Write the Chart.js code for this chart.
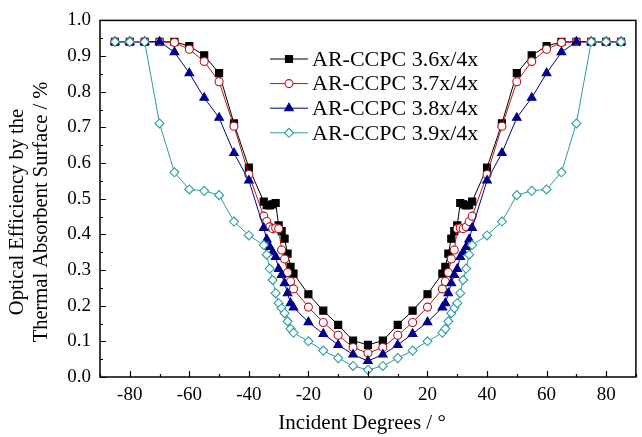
<!DOCTYPE html>
<html>
<head>
<meta charset="utf-8">
<script src="https://cdn.jsdelivr.net/npm/chart.js@4/dist/chart.umd.min.js"></script>
<style>
html,body{margin:0;padding:0;background:#fff;}
#wrap{width:642px;height:437px;position:relative;}
</style>
</head>
<body>
<div id="wrap"><canvas id="c"></canvas></div>
<script>
// ---- data ----
const angles = [-85,-80,-75,-70,-65,-60,-55,-50,-45,-40,-35,-34,-33,-32,-31,-30,-29,-28,-27,-26,-25,-20,-15,-10,-5,0,
                5,10,15,20,25,26,27,28,29,30,31,32,33,34,35,40,45,50,55,60,65,70,75,80,85];
const seriesNames = ['AR-CCPC 3.6x/4x','AR-CCPC 3.7x/4x','AR-CCPC 3.8x/4x','AR-CCPC 3.9x/4x'];
const eff36 = [0.94,0.94,0.94,0.94,0.94,0.928,0.902,0.852,0.711,0.587,0.492,0.482,0.481,0.484,0.488,0.425,0.409,0.388,0.346,0.309,0.29,0.232,0.186,0.146,0.102,0.09,
               0.102,0.146,0.186,0.232,0.29,0.309,0.346,0.388,0.409,0.425,0.488,0.484,0.481,0.482,0.492,0.587,0.711,0.852,0.902,0.928,0.94,0.94,0.94,0.94,0.94];
const eff37 = [0.94,0.94,0.94,0.94,0.938,0.919,0.885,0.828,0.703,0.568,0.451,0.436,0.421,0.416,0.418,0.416,0.356,0.331,0.293,0.268,0.247,0.196,0.153,0.117,0.083,0.067,
               0.083,0.117,0.153,0.196,0.247,0.268,0.293,0.331,0.356,0.416,0.418,0.416,0.421,0.436,0.451,0.568,0.703,0.828,0.885,0.919,0.938,0.94,0.94,0.94,0.94];
const eff38 = [0.94,0.94,0.94,0.94,0.911,0.852,0.783,0.727,0.628,0.551,0.418,0.386,0.365,0.35,0.337,0.303,0.286,0.263,0.235,0.207,0.195,0.154,0.121,0.09,0.063,0.045,
               0.063,0.09,0.121,0.154,0.195,0.207,0.235,0.263,0.286,0.303,0.337,0.35,0.365,0.386,0.418,0.551,0.628,0.727,0.783,0.852,0.911,0.94,0.94,0.94,0.94];
const eff39 = [0.94,0.94,0.94,0.711,0.574,0.526,0.522,0.51,0.436,0.397,0.37,0.343,0.304,0.272,0.235,0.207,0.193,0.179,0.156,0.135,0.124,0.1,0.074,0.053,0.031,0.02,
               0.031,0.053,0.074,0.1,0.124,0.135,0.156,0.179,0.193,0.207,0.235,0.272,0.304,0.343,0.37,0.397,0.436,0.51,0.522,0.526,0.574,0.711,0.94,0.94,0.94];
const xTickValues = [-80,-60,-40,-20,0,20,40,60,80];
const xMinorValues = [-90,-70,-50,-30,-10,10,30,50,70,90];
const yTickValues = [0,0.1,0.2,0.3,0.4,0.5,0.6,0.7,0.8,0.9,1.0];
const yMinorValues = [0.05,0.15,0.25,0.35,0.45,0.55,0.65,0.75,0.85,0.95];
const xTitle = 'Incident Degrees / °';
const yTitleLines = ['Optical Efficiency by the','Thermal Absorbent Surface / %'];

const SERIF = '"Liberation Serif","Times New Roman",serif';
const pts = arr => angles.map((a,i)=>({x:a,y:arr[i]}));

const styles = [
  {color:'#000000', style:'rect', r:5, bg:'#000000'},
  {color:'#b3161b', style:'circle', r:4, bg:'#ffffff'},
  {color:'#00008b', style:'triangle', r:5, bg:'#00008b'},
  {color:'#2a9d9d', style:'rectRot', r:4.5, bg:'#ffffff'}
];
const vals = [eff36,eff37,eff38,eff39];
const datasets = vals.map((v,i)=>({
  label: seriesNames[i],
  data: pts(v),
  borderColor: styles[i].color,
  backgroundColor: styles[i].bg,
  borderWidth: 1,
  pointStyle: styles[i].style,
  pointRadius: styles[i].r,
  pointBorderWidth: 1.1,
  pointBorderColor: styles[i].color,
  pointBackgroundColor: styles[i].bg,
  tension: 0,
  order: 4 - i
}));

const decor = {
  id:'decor',
  afterDraw(chart){
    const ctx = chart.ctx, a = chart.chartArea;
    const xs = chart.scales.x, ys = chart.scales.y;
    ctx.save();
    ctx.strokeStyle = '#000';
    ctx.lineWidth = 1.5;
    ctx.strokeRect(a.left, a.top, a.right-a.left, a.bottom-a.top);
    ctx.lineWidth = 1.2;
    ctx.beginPath();
    xTickValues.forEach(v=>{const px=Math.round(xs.getPixelForValue(v))+0.5; ctx.moveTo(px,a.bottom); ctx.lineTo(px,a.bottom-6);});
    xMinorValues.forEach(v=>{const px=Math.round(xs.getPixelForValue(v))+0.5; ctx.moveTo(px,a.bottom); ctx.lineTo(px,a.bottom-3);});
    yTickValues.forEach(v=>{const py=Math.round(ys.getPixelForValue(v))+0.5; ctx.moveTo(a.left,py); ctx.lineTo(a.left+6,py);});
    yMinorValues.forEach(v=>{const py=Math.round(ys.getPixelForValue(v))+0.5; ctx.moveTo(a.left,py); ctx.lineTo(a.left+3,py);});
    ctx.stroke();

    // axis titles
    ctx.fillStyle = '#000';
    ctx.font = '21px ' + SERIF;
    ctx.textAlign = 'center';
    ctx.textBaseline = 'middle';
    ctx.fillText(xTitle, 362, 423);
    ctx.save();
    ctx.translate(18, 212);
    ctx.rotate(-Math.PI/2);
    ctx.font = '20.5px ' + SERIF;
    ctx.fillText(yTitleLines[0], 0, 0);
    ctx.fillText(yTitleLines[1], 0, 24);
    ctx.restore();

    // legend
    const rowY0 = 59, rowDy = 24.6;
    chart.data.datasets.forEach((ds,i)=>{
      const y = rowY0 + i*rowDy;
      ctx.strokeStyle = ds.borderColor;
      ctx.lineWidth = 1;
      ctx.beginPath(); ctx.moveTo(270,y); ctx.lineTo(308,y); ctx.stroke();
      ctx.lineWidth = ds.pointBorderWidth;
      ctx.fillStyle = ds.pointBackgroundColor;
      Chart.helpers.drawPoint(ctx, {pointStyle: ds.pointStyle, radius: ds.pointRadius, rotation:0, borderWidth: ds.pointBorderWidth}, 289, y);
      ctx.fillStyle = '#000';
      ctx.font = '22px ' + SERIF;
      ctx.textAlign = 'left';
      ctx.textBaseline = 'middle';
      ctx.fillText(ds.label, 312, y+1);
    });
    ctx.restore();
  }
};

new Chart(document.getElementById('c'), {
  type:'line',
  data:{datasets},
  options:{
    responsive:true,
    maintainAspectRatio:false,
    animation:false,
    layout:{padding:{top:15,right:2,left:0,bottom:0}},
    plugins:{legend:{display:false},tooltip:{enabled:false}},
    scales:{
      x:{
        type:'linear', min:-90, max:90,
        grid:{display:false, drawTicks:false},
        border:{display:false},
        afterBuildTicks(s){ s.ticks = xTickValues.map(v=>({value:v})); },
        afterFit(s){ s.height = 60; },
        ticks:{font:{family:SERIF,size:19},color:'#000',padding:7,maxRotation:0,autoSkip:false}
      },
      y:{
        type:'linear', min:0, max:1,
        grid:{display:false, drawTicks:false},
        border:{display:false},
        afterBuildTicks(s){ s.ticks = yTickValues.map(v=>({value:v})); },
        afterFit(s){ s.width = 100; },
        ticks:{font:{family:SERIF,size:19},color:'#000',padding:9,autoSkip:false,
          callback:(v)=>Number(v).toFixed(1)}
      }
    }
  },
  plugins:[decor]
});
</script>
</body>
</html>
